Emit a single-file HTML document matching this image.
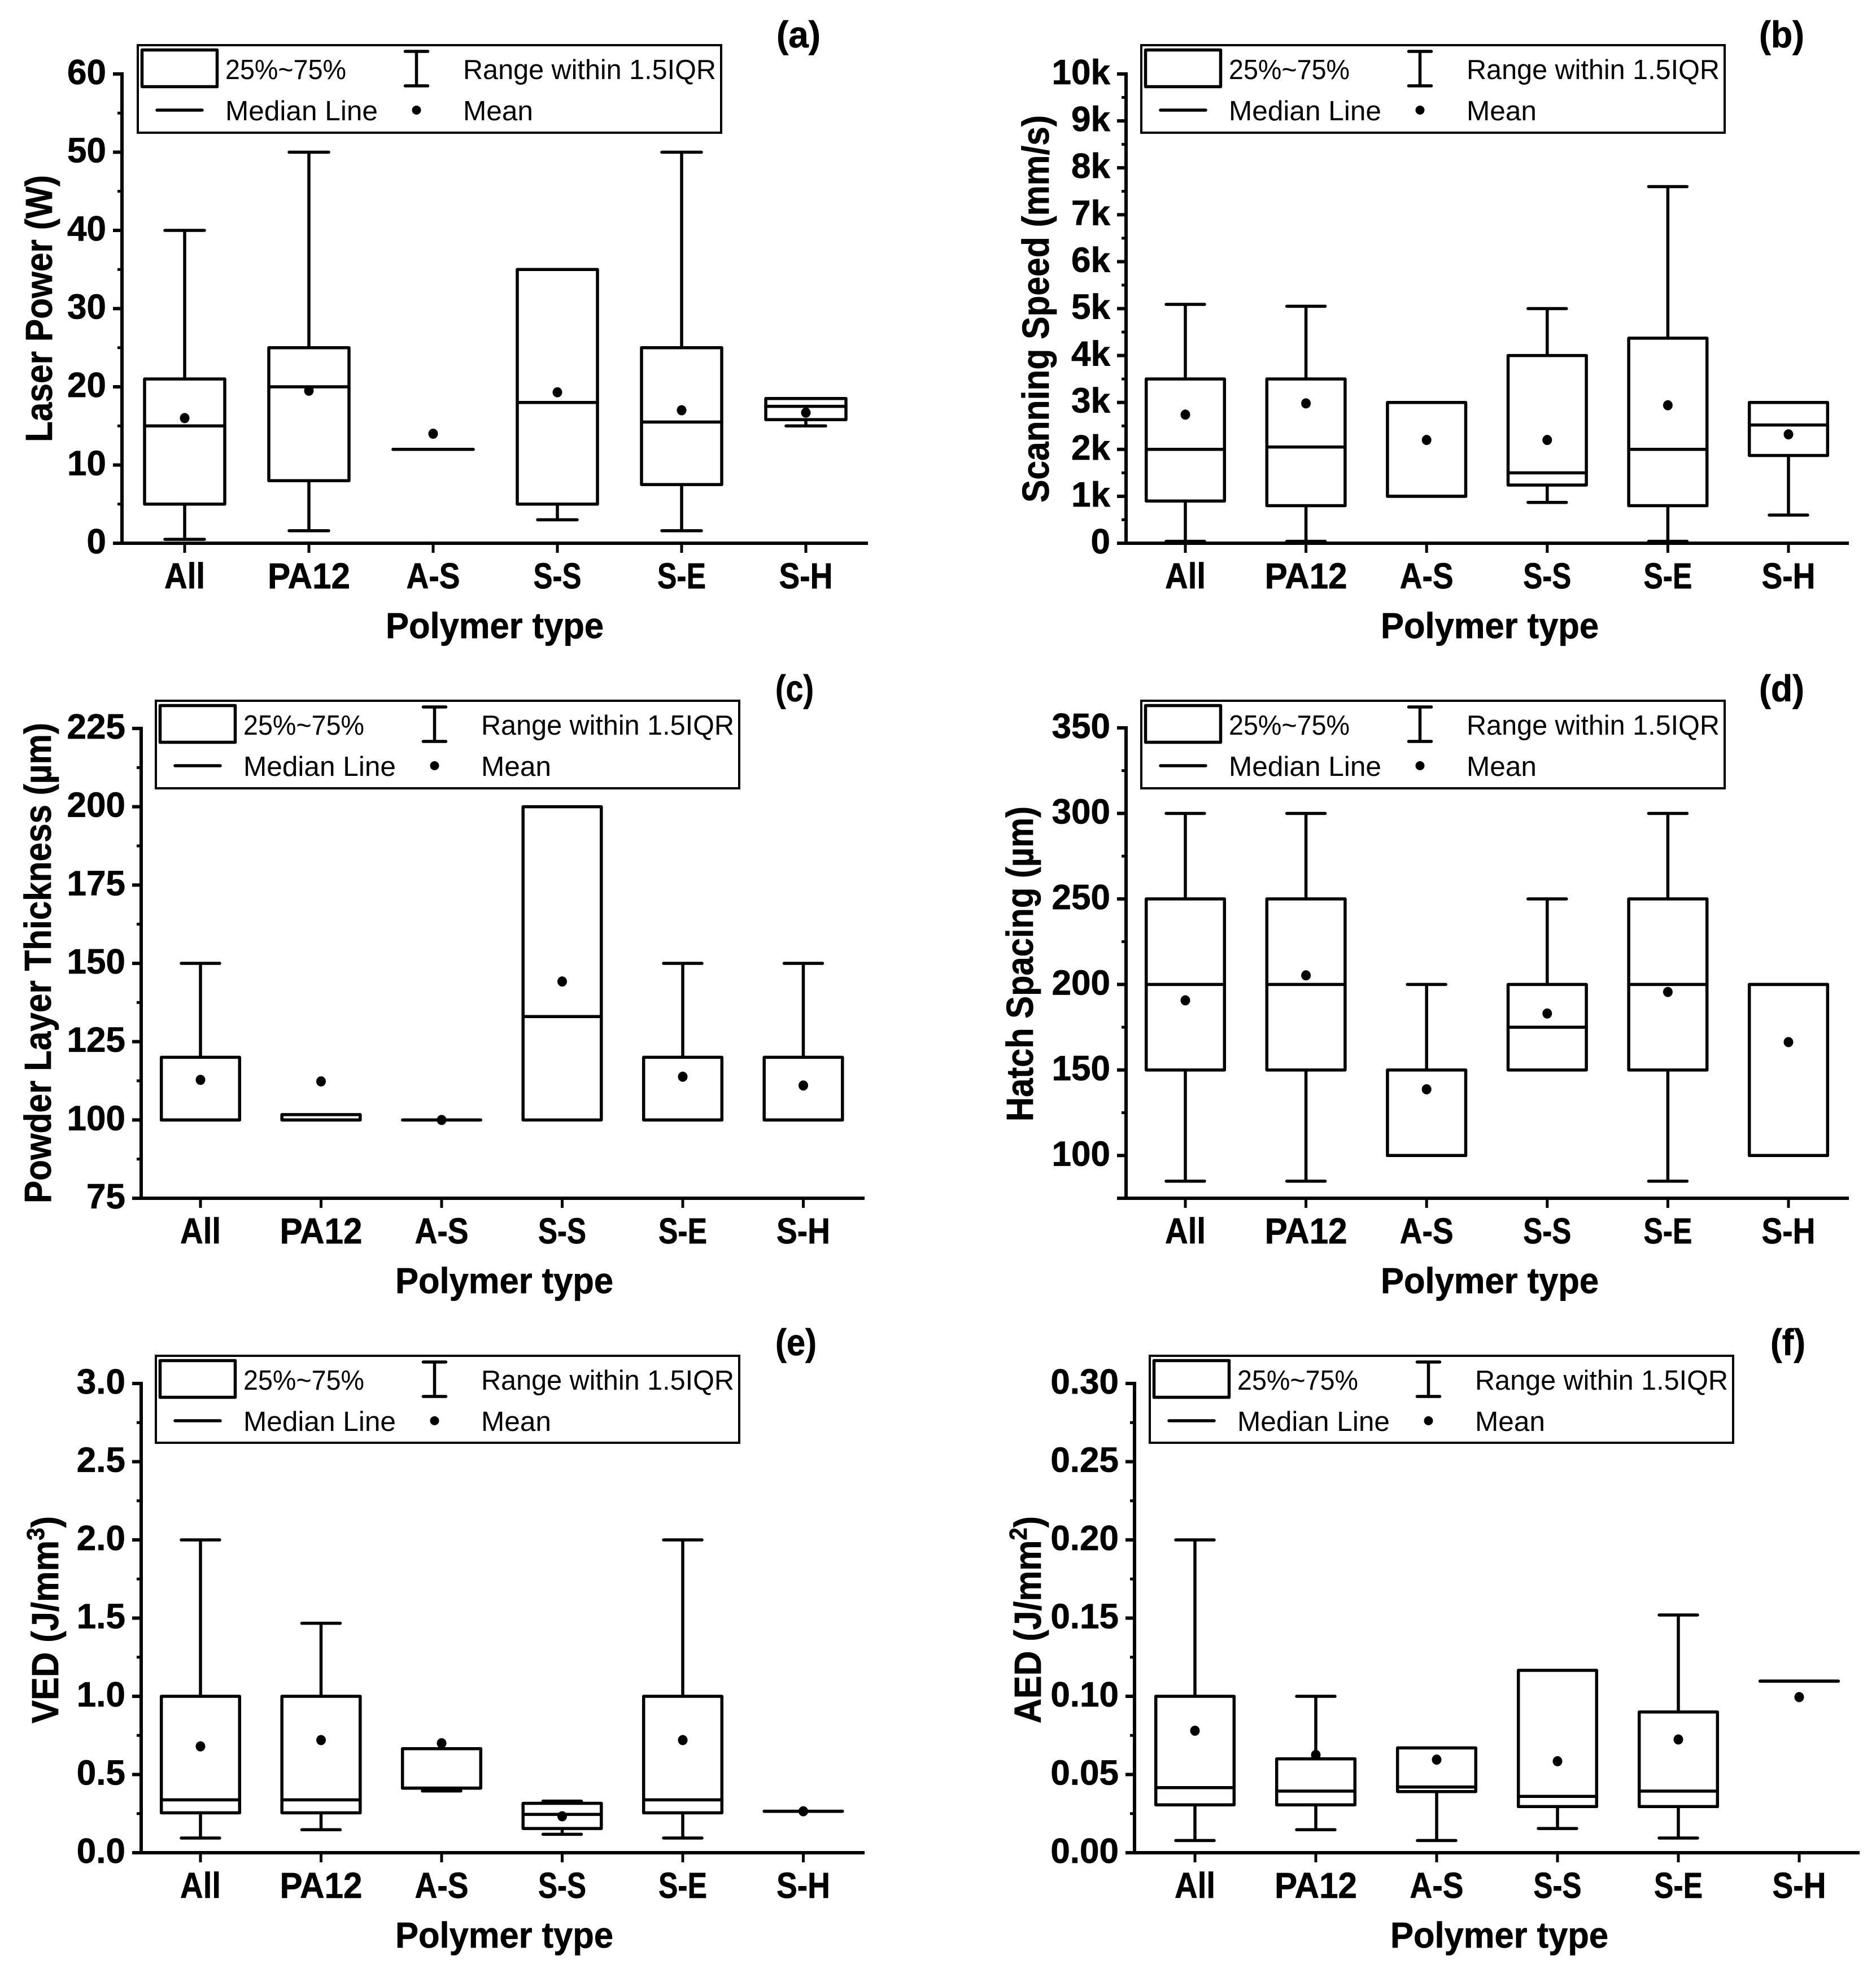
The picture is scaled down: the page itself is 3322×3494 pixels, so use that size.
<!DOCTYPE html>
<html lang="en">
<head>
<meta charset="utf-8">
<title>Box plots by polymer type</title>
<style>
html,body{margin:0;padding:0;background:#fff;}
svg{display:block;}
text{font-family:"Liberation Sans",sans-serif;fill:#000;}
</style>
</head>
<body>
<svg id="figure" xmlns="http://www.w3.org/2000/svg" width="3322" height="3494" viewBox="0 0 3322 3494"></svg>
<script>
const categories = ['All', 'PA12', 'A-S', 'S-S', 'S-E', 'S-H'];

// (a) Laser Power
const aDomain = [0, 60];
const aTickValues = [0, 10, 20, 30, 40, 50, 60];
const aTickLabels = ['0', '10', '20', '30', '40', '50', '60'];
const aQ1 = [5, 8, 12, 5, 7.5, 15.8];
const aMedian = [15, 20, 12, 18, 15.5, 17.5];
const aQ3 = [21, 25, 12, 35, 25, 18.5];
const aLow = [0.5, 1.6, 12, 3, 1.6, 15];
const aHigh = [40, 50, 12, 35, 50, 18.5];
const aMean = [16, 19.5, 14, 19.3, 17, 16.7];

// (b) Scanning Speed
const bDomain = [0, 10000];
const bTickValues = [0, 1000, 2000, 3000, 4000, 5000, 6000, 7000, 8000, 9000, 10000];
const bTickLabels = ['0', '1k', '2k', '3k', '4k', '5k', '6k', '7k', '8k', '9k', '10k'];
const bQ1 = [900, 800, 1000, 1240, 800, 1870];
const bMedian = [2000, 2050, 1000, 1500, 2000, 2520];
const bQ3 = [3500, 3500, 3000, 4000, 4370, 3000];
const bLow = [40, 40, 1000, 870, 40, 600];
const bHigh = [5090, 5050, 3000, 5000, 7600, 3000];
const bMean = [2740, 2980, 2200, 2200, 2940, 2320];

// (c) Powder Layer Thickness
const cDomain = [75, 225];
const cTickValues = [75, 100, 125, 150, 175, 200, 225];
const cTickLabels = ['75', '100', '125', '150', '175', '200', '225'];
const cQ1 = [100, 100, 100, 100, 100, 100];
const cMedian = [100, 100, 100, 133, 100, 100];
const cQ3 = [120, 101.7, 100, 200, 120, 120];
const cLow = [100, 100, 100, 100, 100, 100];
const cHigh = [150, 101.7, 100, 200, 150, 150];
const cMean = [112.8, 112.3, 100, 144.2, 113.8, 111];

// (d) Hatch Spacing
const dDomain = [75, 350];
const dTickValues = [100, 150, 200, 250, 300, 350];
const dTickLabels = ['100', '150', '200', '250', '300', '350'];
const dQ1 = [150, 150, 100, 150, 150, 100];
const dMedian = [200, 200, 100, 175, 200, 200];
const dQ3 = [250, 250, 150, 200, 250, 200];
const dLow = [85, 85, 100, 150, 85, 100];
const dHigh = [300, 300, 200, 250, 300, 200];
const dMean = [190.7, 205.3, 138.7, 183, 195.6, 166.3];

// (e) VED
const eDomain = [0, 3];
const eTickValues = [0, 0.5, 1, 1.5, 2, 2.5, 3];
const eTickLabels = ['0.0', '0.5', '1.0', '1.5', '2.0', '2.5', '3.0'];
const eQ1 = [0.255, 0.255, 0.413, 0.155, 0.255, 0.265];
const eMedian = [0.338, 0.338, 0.413, 0.245, 0.338, 0.265];
const eQ3 = [1, 1, 0.665, 0.316, 1, 0.265];
const eLow = [0.094, 0.147, 0.395, 0.118, 0.094, 0.265];
const eHigh = [2, 1.467, 0.665, 0.33, 2, 0.265];
const eMean = [0.68, 0.72, 0.70, 0.233, 0.72, 0.265];

// (f) AED
const fDomain = [0, 0.3];
const fTickValues = [0, 0.05, 0.1, 0.15, 0.2, 0.25, 0.3];
const fTickLabels = ['0.00', '0.05', '0.10', '0.15', '0.20', '0.25', '0.30'];
const fQ1 = [0.0306, 0.0306, 0.0391, 0.0295, 0.0295, 0.1097];
const fMedian = [0.0416, 0.0394, 0.042, 0.036, 0.0394, 0.1097];
const fQ3 = [0.1, 0.06, 0.067, 0.1166, 0.09, 0.1097];
const fLow = [0.0078, 0.0147, 0.0078, 0.0155, 0.0094, 0.1097];
const fHigh = [0.2, 0.1, 0.067, 0.1166, 0.152, 0.1097];
const fMean = [0.078, 0.0625, 0.0595, 0.0585, 0.0724, 0.0995];

const svgNS = 'http://www.w3.org/2000/svg';
const root = document.getElementById('figure');
const STROKE = 5.5;
const BOLD_EDGE = 0.7;
const catLabelFit = {'All': 72, 'PA12': 146, 'A-S': 95, 'S-S': 85, 'S-E': 86, 'S-H': 95};

function add(parent, tag, attrs, name) {
  const el = document.createElementNS(svgNS, tag);
  for (const k in attrs) el.setAttribute(k, attrs[k]);
  
  
  parent.appendChild(el);
  return el;
}
function line(parent, x1, y1, x2, y2, name, w, cap) {
  return add(parent, 'line', {x1: x1, y1: y1, x2: x2, y2: y2, stroke: '#000', 'stroke-width': w || STROKE, 'stroke-linecap': cap || 'butt'}, name);
}
function label(parent, str, attrs, name) {
  const t = add(parent, 'text', attrs, name);
  t.textContent = str;
  return t;
}
function boldLabel(parent, str, attrs, name) {
  const t = label(parent, str, attrs, name);
  t.setAttribute('font-weight', '700');
  t.setAttribute('stroke', '#000');
  t.setAttribute('stroke-width', BOLD_EDGE);
  return t;
}

function drawLegend(g, left, top, h) {
  const lg = add(g, 'g', {}, 'legend');
  add(lg, 'rect', {x: left + 1, y: top, width: 1033, height: h, fill: '#fff', stroke: '#000', 'stroke-width': 4}, 'legend-frame');
  add(lg, 'rect', {x: left + 8.5, y: top + 8.5, width: 133, height: 65, fill: '#fff', stroke: '#000', 'stroke-width': 5.5, 'stroke-linejoin': 'round'}, 'legend-box-swatch');
  label(lg, '25%~75%', {x: left + 156, y: top + 60, 'font-size': 49, textLength: 214, lengthAdjust: 'spacingAndGlyphs'}, 'legend-label-iqr');
  const ix = left + 494.5;
  line(lg, ix, top + 11, ix, top + 72, 'legend-whisker-stem');
  line(lg, ix - 20, top + 11, ix + 20, top + 11, 'legend-whisker-cap-top', STROKE, 'round');
  line(lg, ix - 20, top + 72, ix + 20, top + 72, 'legend-whisker-cap-bottom', STROKE, 'round');
  label(lg, 'Range within 1.5IQR', {x: left + 577, y: top + 60, 'font-size': 49, textLength: 448, lengthAdjust: 'spacingAndGlyphs'}, 'legend-label-range');
  line(lg, left + 35, top + 115, left + 115, top + 115, 'legend-median-line', STROKE, 'round');
  label(lg, 'Median Line', {x: left + 156, y: top + 133, 'font-size': 49, textLength: 270, lengthAdjust: 'spacingAndGlyphs'}, 'legend-label-median');
  add(lg, 'circle', {cx: ix, cy: top + 115, r: 8}, 'legend-mean-dot');
  label(lg, 'Mean', {x: left + 577, y: top + 133, 'font-size': 49, textLength: 124, lengthAdjust: 'spacingAndGlyphs'}, 'legend-label-mean');
}

function drawYTitle(g, p) {
  const t = add(g, 'text', {x: p.yTitleX, y: p.yTitleBottom, 'font-size': 67, 'font-weight': 700, stroke: '#000', 'stroke-width': BOLD_EDGE, textLength: p.yTitleLen, lengthAdjust: 'spacingAndGlyphs', transform: 'rotate(-90 ' + p.yTitleX + ' ' + p.yTitleBottom + ')'}, 'y-axis-title');
  t.appendChild(document.createTextNode(p.yTitle));
  if (p.ySup) {
    const sup = document.createElementNS(svgNS, 'tspan');
    sup.setAttribute('font-size', '44');
    sup.setAttribute('dy', '-25');
    sup.textContent = p.ySup;
    t.appendChild(sup);
    const tail = document.createElementNS(svgNS, 'tspan');
    tail.setAttribute('dy', '25');
    tail.textContent = ')';
    t.appendChild(tail);
  }
}

function drawPanel(p) {
  const g = add(root, 'g', {}, 'panel-' + p.id);
  const yScale = v => p.axisY - (v - p.domain[0]) / (p.domain[1] - p.domain[0]) * (p.axisY - p.topY);
  const xScale = i => p.catX0 + i * p.catStep;

  // axes
  line(g, p.axisX, p.topY - 3, p.axisX, p.axisY + 3, 'y-axis-line', 6);
  line(g, p.axisX - 16, p.axisY, p.axisEnd, p.axisY, 'x-axis-line', 6);

  // y ticks
  const step = p.tickValues[1] - p.tickValues[0];
  p.tickValues.forEach((v, i) => {
    const y = yScale(v);
    line(g, p.axisX - 16, y, p.axisX, y, 'y-tick', 6);
    boldLabel(g, p.tickLabels[i], {x: p.axisX - 28, y: y + 18, 'font-size': 62, 'text-anchor': 'end'}, 'y-tick-label');
    const mv = v + step / 2;
    if (mv < p.domain[1]) {
      line(g, p.axisX - 8, yScale(mv), p.axisX, yScale(mv), 'y-minor-tick', 5);
    }
  });

  // x ticks
  categories.forEach((c, i) => {
    const x = xScale(i);
    line(g, x, p.axisY, x, p.axisY + 17, 'x-tick', 5);
    boldLabel(g, c, {x: x, y: p.axisY + 80, 'font-size': 64, 'text-anchor': 'middle', textLength: catLabelFit[c], lengthAdjust: 'spacingAndGlyphs'}, 'x-tick-label');
  });

  // boxes
  categories.forEach((c, i) => {
    const x = xScale(i);
    const hw = p.boxW / 2, cw = p.capW / 2;
    const bg = add(g, 'g', {}, 'box-' + c.toLowerCase());
    const yQ1 = yScale(p.q1[i]), yQ3 = yScale(p.q3[i]), yM = yScale(p.median[i]);
    if (p.high[i] > p.q3[i]) {
      line(bg, x, yScale(p.high[i]), x, yQ3, 'whisker-high');
      line(bg, x - cw, yScale(p.high[i]), x + cw, yScale(p.high[i]), 'whisker-cap-high', STROKE, 'round');
    }
    if (p.low[i] < p.q1[i]) {
      line(bg, x, yQ1, x, yScale(p.low[i]), 'whisker-low');
      line(bg, x - cw, yScale(p.low[i]), x + cw, yScale(p.low[i]), 'whisker-cap-low', STROKE, 'round');
    }
    add(bg, 'path', {d: 'M' + (x - hw) + ' ' + yQ3 + 'H' + (x + hw) + 'V' + yQ1 + 'H' + (x - hw) + 'Z', fill: 'none', stroke: '#000', 'stroke-width': STROKE, 'stroke-linejoin': 'round'}, 'interquartile-box');
    line(bg, x - hw, yM, x + hw, yM, 'median-line', STROKE, 'round');
    add(bg, 'ellipse', {cx: x, cy: yScale(p.mean[i]), rx: 8.5, ry: 9}, 'mean-dot');
  });

  // titles
  boldLabel(g, 'Polymer type', {x: p.xTitleX, y: p.axisY + 168, 'font-size': 64, textLength: 386, lengthAdjust: 'spacingAndGlyphs'}, 'x-axis-title');
  drawYTitle(g, p);
  boldLabel(g, p.tag, {x: p.tagX, y: p.tagY, 'font-size': 66, textLength: p.tagW, lengthAdjust: 'spacingAndGlyphs'}, 'panel-tag');

  drawLegend(g, p.legendX, p.legendY, p.legendH);
}

drawPanel({id: 'a', tag: '(a)', tagX: 1375, tagY: 84, tagW: 78,
  axisX: 216, axisY: 962, topY: 131, axisEnd: 1537, catX0: 327, catStep: 220, boxW: 142, capW: 70,
  domain: aDomain, tickValues: aTickValues, tickLabels: aTickLabels,
  q1: aQ1, median: aMedian, q3: aQ3, low: aLow, high: aHigh, mean: aMean,
  xTitleX: 683, yTitle: 'Laser Power (W)', yTitleX: 92, yTitleBottom: 783, yTitleLen: 473,
  legendX: 243, legendY: 80, legendH: 155});

drawPanel({id: 'b', tag: '(b)', tagX: 3115, tagY: 84, tagW: 80,
  axisX: 1994, axisY: 962, topY: 131, axisEnd: 3274, catX0: 2099, catStep: 213.6, boxW: 138.6, capW: 68,
  domain: bDomain, tickValues: bTickValues, tickLabels: bTickLabels,
  q1: bQ1, median: bMedian, q3: bQ3, low: bLow, high: bHigh, mean: bMean,
  xTitleX: 2445, yTitle: 'Scanning Speed (mm/s)', yTitleX: 1857, yTitleBottom: 890, yTitleLen: 686,
  legendX: 2020, legendY: 80, legendH: 155});

drawPanel({id: 'c', tag: '(c)', tagX: 1373, tagY: 1242, tagW: 68,
  axisX: 250, axisY: 2122, topY: 1290, axisEnd: 1531, catX0: 355, catStep: 213.5, boxW: 138.6, capW: 68,
  domain: cDomain, tickValues: cTickValues, tickLabels: cTickLabels,
  q1: cQ1, median: cMedian, q3: cQ3, low: cLow, high: cHigh, mean: cMean,
  xTitleX: 700, yTitle: 'Powder Layer Thickness (\u00b5m)', yTitleX: 90, yTitleBottom: 2131, yTitleLen: 851,
  legendX: 275, legendY: 1241, legendH: 155});

drawPanel({id: 'd', tag: '(d)', tagX: 3115, tagY: 1242, tagW: 80,
  axisX: 1994, axisY: 2122, topY: 1289, axisEnd: 3274, catX0: 2099, catStep: 213.6, boxW: 138.6, capW: 68,
  domain: dDomain, tickValues: dTickValues, tickLabels: dTickLabels,
  q1: dQ1, median: dMedian, q3: dQ3, low: dLow, high: dHigh, mean: dMean,
  xTitleX: 2445, yTitle: 'Hatch Spacing (\u00b5m)', yTitleX: 1829, yTitleBottom: 1986, yTitleLen: 558,
  legendX: 2020, legendY: 1241, legendH: 155});

drawPanel({id: 'e', tag: '(e)', tagX: 1373, tagY: 2400, tagW: 73,
  axisX: 250, axisY: 3281, topY: 2450, axisEnd: 1531, catX0: 355, catStep: 213.5, boxW: 138.6, capW: 68,
  domain: eDomain, tickValues: eTickValues, tickLabels: eTickLabels,
  q1: eQ1, median: eMedian, q3: eQ3, low: eLow, high: eHigh, mean: eMean,
  xTitleX: 700, yTitle: 'VED (J/mm', ySup: '3', yTitleX: 103, yTitleBottom: 3052, yTitleLen: 367,
  legendX: 275, legendY: 2401, legendH: 154});

drawPanel({id: 'f', tag: '(f)', tagX: 3135, tagY: 2400, tagW: 62,
  axisX: 2009, axisY: 3281, topY: 2450, axisEnd: 3293, catX0: 2116, catStep: 214, boxW: 138.6, capW: 68,
  domain: fDomain, tickValues: fTickValues, tickLabels: fTickLabels,
  q1: fQ1, median: fMedian, q3: fQ3, low: fLow, high: fHigh, mean: fMean,
  xTitleX: 2462, yTitle: 'AED (J/mm', ySup: '2', yTitleX: 1843, yTitleBottom: 3052, yTitleLen: 367,
  legendX: 2035, legendY: 2401, legendH: 154});
</script>
</body>
</html>
